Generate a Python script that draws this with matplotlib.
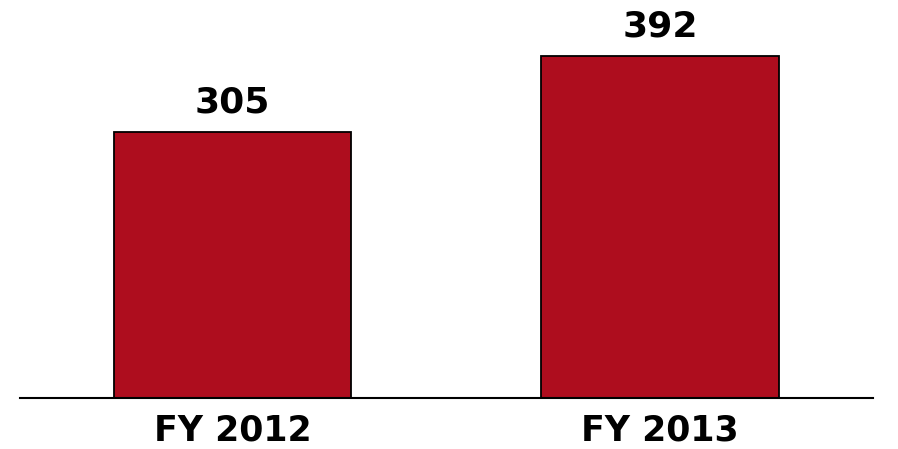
import matplotlib
matplotlib.use("Agg")
import matplotlib.pyplot as plt

categories = ["FY 2012", "FY 2013"]
values = [305, 392]

bar_color = "#AE0D1E"

fig = plt.figure(figsize=(8.98, 4.49), dpi=100)
ax = fig.add_axes([20 / 898, (449 - 398) / 449, 853 / 898, 398 / 449])

bars = ax.bar(range(len(categories)), values, width=0.555,
              color=bar_color, edgecolor="black", linewidth=1.3)
ax.bar_label(bars, labels=[str(v) for v in values], padding=9,
             fontsize=26, fontweight="bold", color="black")

ax.set_xlim(-0.497, 1.498)
ax.set_ylim(0, 456)

ax.set_xticks(range(len(categories)))
ax.set_xticklabels(categories, fontsize=25, fontweight="bold")
ax.tick_params(axis="x", length=0, pad=11)
ax.set_yticks([])

for side in ("top", "right", "left"):
    ax.spines[side].set_visible(False)
ax.spines["bottom"].set_linewidth(1.5)

fig.savefig("out.png", dpi=100)
